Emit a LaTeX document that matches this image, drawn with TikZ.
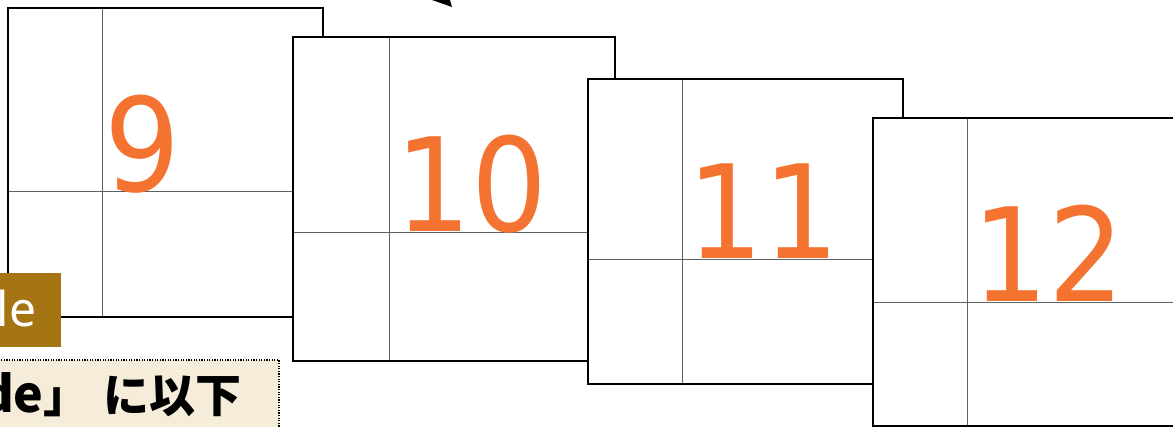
\documentclass[tikz,border=0pt]{standalone}
\usepackage{fontspec}
\newfontfamily\digitfont[FakeStretch=0.92]{DejaVu Sans}
\newfontfamily\labfont{Noto Sans}
\newfontfamily\jpfont{Noto Sans CJK JP}
\definecolor{numorange}{RGB}{244,115,48}
\definecolor{labbrown}{RGB}{165,117,20}
\definecolor{notebeige}{RGB}{245,237,218}
\begin{document}
\begin{tikzpicture}[x=1pt,y=-1pt,
  pagefill/.style={fill=white},
  pageframe/.style={draw=black,line width=2.2pt},
  gridline/.style={draw=black!62,line width=0.9pt},
  num/.style={text=numorange,font=\digitfont\fontsize{130}{130}\selectfont,inner sep=0pt,anchor=base west},
  labelbox/.style={fill=labbrown},
  notebox/.style={fill=notebeige,draw=black,line width=1.3pt,dash pattern=on 1.3pt off 1.3pt}]
\useasboundingbox (0,0) rectangle (1173,427);
\clip (0,0) rectangle (1173,427);
% page 9
\fill[pagefill] (8,8) rectangle (323,317);
\draw[gridline] (102,8) -- (102,317) (8,191) -- (323,191);
\draw[pageframe] (8,8) rectangle (323,317);
\node[num] (n9) at (104,192) {9};
% page 10
\fill[pagefill] (293,37) rectangle (615,361);
\draw[gridline] (389,37) -- (389,361) (293,232) -- (615,232);
\draw[pageframe] (293,37) rectangle (615,361);
\node[num] (n10) at (395,232) {10};
% page 11
\fill[pagefill] (588,79) rectangle (903,384);
\draw[gridline] (682,79) -- (682,384) (588,259) -- (903,259);
\draw[pageframe] (588,79) rectangle (903,384);
\node[num] (n11) at (687.5,259) {11};
% page 12
\fill[pagefill] (873,118) rectangle (1190,426);
\draw[gridline] (967,118) -- (967,426) (873,302) -- (1190,302);
\draw[pageframe] (873,118) rectangle (1190,426);
\node[num] (n12) at (972,302) {12};
% label box
\fill[labelbox] (-5,273) rectangle (61,347);
\node[text=white,font=\labfont\fontsize{48}{48}\selectfont,inner sep=0pt,anchor=base west] (lbl) at (-3.5,327) {le};
% note box
\draw[notebox] (-5,360) rectangle (279,445);
\node[text=black,font=\jpfont\bfseries\fontsize{46}{46}\selectfont,inner sep=0pt,anchor=base east] (note) at (242,413)
  {{\fontsize{50}{50}\selectfont de}」\hspace{14pt}に以下};
% arrow tip at top
\fill[black] (423.4,-3) -- (449.1,-3) -- (452,7) -- cycle;
\end{tikzpicture}
\end{document}
